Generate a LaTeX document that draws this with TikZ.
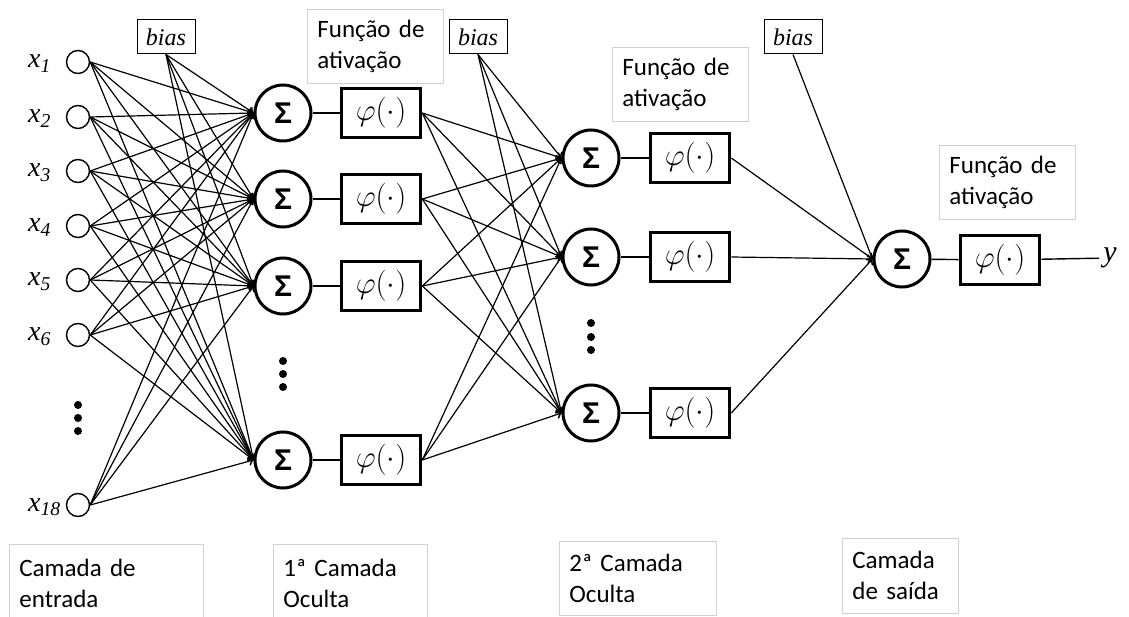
\documentclass[tikz,border=0pt]{standalone}
\usepackage{fix-cm}
\usepackage{amsmath, amssymb}
\usepackage{xcolor}
\usepackage{fontspec}
\setmainfont{Carlito}
\newfontfamily\timesfont{Liberation Serif}
\newfontfamily\sumfont{Liberation Sans}[BoldFont={Liberation Sans Bold}]
\usepackage{tikz}
\usetikzlibrary{arrows,decorations.markings}

\begin{document}
\begin{tikzpicture}[x=1pt,y=-1pt]
        \tikzset{myptr/.style={line width=1.2pt,decoration={markings,mark=at position 1 with %
        {\arrow[scale=1.5,>=to]{>}}},postaction={decorate}}}
        \tikzset{inp/.style={draw,circle,line width=1.4pt,minimum size=23pt,inner sep=0pt}}
        \tikzset{sum/.style={draw,circle,line width=3pt,minimum size=56pt,inner sep=0pt,%
        font=\fontsize{30}{30}\selectfont\sumfont\bfseries}}
        \tikzset{phi/.style={draw,rectangle,line width=3.6pt,minimum width=79pt,%
        minimum height=49pt,inner sep=0pt,font=\fontsize{31}{31}\selectfont}}
        \tikzset{biasbox/.style={draw,rectangle,line width=1pt,minimum width=58pt,%
        minimum height=34pt,inner sep=0pt,font=\fontsize{24}{24}\selectfont\timesfont\itshape}}
        \tikzset{note/.style={draw=black!18,line width=0.8pt,anchor=north west,align=left,%
        inner xsep=10pt,inner ysep=0pt,font=\fontsize{25}{31}\selectfont}}
        \tikzset{xlab/.style={anchor=base west,inner sep=0pt,font=\fontsize{28}{28}\selectfont\timesfont\itshape}}
        \tikzset{link/.style={line width=1.4pt}}

        \useasboundingbox (0,0) rectangle (1129,617);

        % input layer
        \node[inp] (x1) at (78,62) {};
        \node[inp] (x2) at (78,117) {};
        \node[inp] (x3) at (78,171) {};
        \node[inp] (x4) at (78,226) {};
        \node[inp] (x5) at (78,280) {};
        \node[inp] (x6) at (78,335) {};
        \node[inp] (x18) at (78,505) {};
        \node[xlab] (lx1) at (28,68) {x\textsubscript{1}};
        \node[xlab] (lx2) at (28,123) {x\textsubscript{2}};
        \node[xlab] (lx3) at (28,177) {x\textsubscript{3}};
        \node[xlab] (lx4) at (28,232) {x\textsubscript{4}};
        \node[xlab] (lx5) at (28,286) {x\textsubscript{5}};
        \node[xlab] (lx6) at (28,341) {x\textsubscript{6}};
        \node[xlab] (lx18) at (28,511) {x\textsubscript{18}};
        \fill (78,405) circle (4);
        \fill (78,418) circle (4);
        \fill (78,431) circle (4);

        % first hidden layer
        \node[biasbox] (b1) at (166,37) {bias};
        \node[sum] (s11) at (283,113) {Σ};
        \node[sum] (s12) at (283,199) {Σ};
        \node[sum] (s13) at (283,286) {Σ};
        \node[sum] (s14) at (283,460) {Σ};
        \node[phi] (p11) at (381,113) {$\varphi(\cdot)$};
        \node[phi] (p12) at (381,199) {$\varphi(\cdot)$};
        \node[phi] (p13) at (381,286) {$\varphi(\cdot)$};
        \node[phi] (p14) at (381,460) {$\varphi(\cdot)$};
        \fill (283,361) circle (4);
        \fill (283,374) circle (4);
        \fill (283,387) circle (4);

        % second hidden layer
        \node[biasbox] (b2) at (478,37) {bias};
        \node[sum] (s21) at (591,158) {Σ};
        \node[sum] (s22) at (591,257) {Σ};
        \node[sum] (s23) at (591,413) {Σ};
        \node[phi] (p21) at (690,158) {$\varphi(\cdot)$};
        \node[phi] (p22) at (690,257) {$\varphi(\cdot)$};
        \node[phi] (p23) at (690,413) {$\varphi(\cdot)$};
        \fill (591,323) circle (4);
        \fill (591,337) circle (4);
        \fill (591,350) circle (4);

        % output layer
        \node[biasbox] (b3) at (793,37) {bias};
        \node[sum] (s3) at (902,259) {Σ};
        \node[phi] (p3) at (1000,260) {$\varphi(\cdot)$};
        \node[inner sep=4pt,font=\fontsize{30}{30}\selectfont\timesfont\itshape] (yl) at (1110,258) {y};

        % captions
        \node[note,text width=116pt,minimum height=74pt] (t1) at (307,9) {Função de\\ativação};
        \node[note,text width=116pt,minimum height=74pt] (t2) at (612,47) {Função de\\ativação};
        \node[note,text width=116pt,minimum height=74pt] (t3) at (939,145) {Função de\\ativação};
        \node[note,text width=174pt,minimum height=79pt] (c1) at (9,544) {Camada de\\entrada};
        \node[note,text width=134pt,minimum height=79pt] (c2) at (273,544) {1ª Camada\\Oculta};
        \node[note,text width=137pt,minimum height=74pt] (c3) at (559,541) {2ª Camada\\Oculta};
        \node[note,text width=96pt,minimum height=75pt] (c4) at (842,538) {Camada\\de saída};

        % lines
        % to s11
        \draw[myptr] (x1.east) -- (s11.west);
        \draw[myptr] (x2.east) -- (s11.west);
        \draw[myptr] (x3.east) -- (s11.west);
        \draw[myptr] (x4.east) -- (s11.west);
        \draw[myptr] (x5.east) -- (s11.west);
        \draw[myptr] (x6.east) -- (s11.west);
        \draw[myptr] (x18.east) -- (s11.west);
        \draw[myptr] (b1.south) -- (s11.west);
        % to s12
        \draw[myptr] (x1.east) -- (s12.west);
        \draw[myptr] (x2.east) -- (s12.west);
        \draw[myptr] (x3.east) -- (s12.west);
        \draw[myptr] (x4.east) -- (s12.west);
        \draw[myptr] (x5.east) -- (s12.west);
        \draw[myptr] (x6.east) -- (s12.west);
        \draw[myptr] (x18.east) -- (s12.west);
        \draw[myptr] (b1.south) -- (s12.west);
        % to s13
        \draw[myptr] (x1.east) -- (s13.west);
        \draw[myptr] (x2.east) -- (s13.west);
        \draw[myptr] (x3.east) -- (s13.west);
        \draw[myptr] (x4.east) -- (s13.west);
        \draw[myptr] (x5.east) -- (s13.west);
        \draw[myptr] (x6.east) -- (s13.west);
        \draw[myptr] (x18.east) -- (s13.west);
        \draw[myptr] (b1.south) -- (s13.west);
        % to s14
        \draw[myptr] (x1.east) -- (s14.west);
        \draw[myptr] (x2.east) -- (s14.west);
        \draw[myptr] (x3.east) -- (s14.west);
        \draw[myptr] (x4.east) -- (s14.west);
        \draw[myptr] (x5.east) -- (s14.west);
        \draw[myptr] (x6.east) -- (s14.west);
        \draw[myptr] (x18.east) -- (s14.west);
        \draw[myptr] (b1.south) -- (s14.west);
        % sum to activation, first layer
        \draw[link] (s11) -- (p11);
        \draw[link] (s12) -- (p12);
        \draw[link] (s13) -- (p13);
        \draw[link] (s14) -- (p14);
        % to s21
        \draw[myptr] (p11.east) -- (s21.west);
        \draw[myptr] (p12.east) -- (s21.west);
        \draw[myptr] (p13.east) -- (s21.west);
        \draw[myptr] (p14.east) -- (s21.west);
        \draw[myptr] (b2.south) -- (s21.west);
        % to s22
        \draw[myptr] (p11.east) -- (s22.west);
        \draw[myptr] (p12.east) -- (s22.west);
        \draw[myptr] (p13.east) -- (s22.west);
        \draw[myptr] (p14.east) -- (s22.west);
        \draw[myptr] (b2.south) -- (s22.west);
        % to s23
        \draw[myptr] (p11.east) -- (s23.west);
        \draw[myptr] (p12.east) -- (s23.west);
        \draw[myptr] (p13.east) -- (s23.west);
        \draw[myptr] (p14.east) -- (s23.west);
        \draw[myptr] (b2.south) -- (s23.west);
        % sum to activation, second layer
        \draw[link] (s21) -- (p21);
        \draw[link] (s22) -- (p22);
        \draw[link] (s23) -- (p23);
        % to s3
        \draw[myptr] (p21.east) -- (s3.west);
        \draw[myptr] (p22.east) -- (s3.west);
        \draw[myptr] (p23.east) -- (s3.west);
        \draw[myptr] (b3.south) -- (s3.west);
        % output
        \draw[link] (s3) -- (p3);
        \draw[link] (p3) -- (yl);
    \end{tikzpicture}
\end{document}
